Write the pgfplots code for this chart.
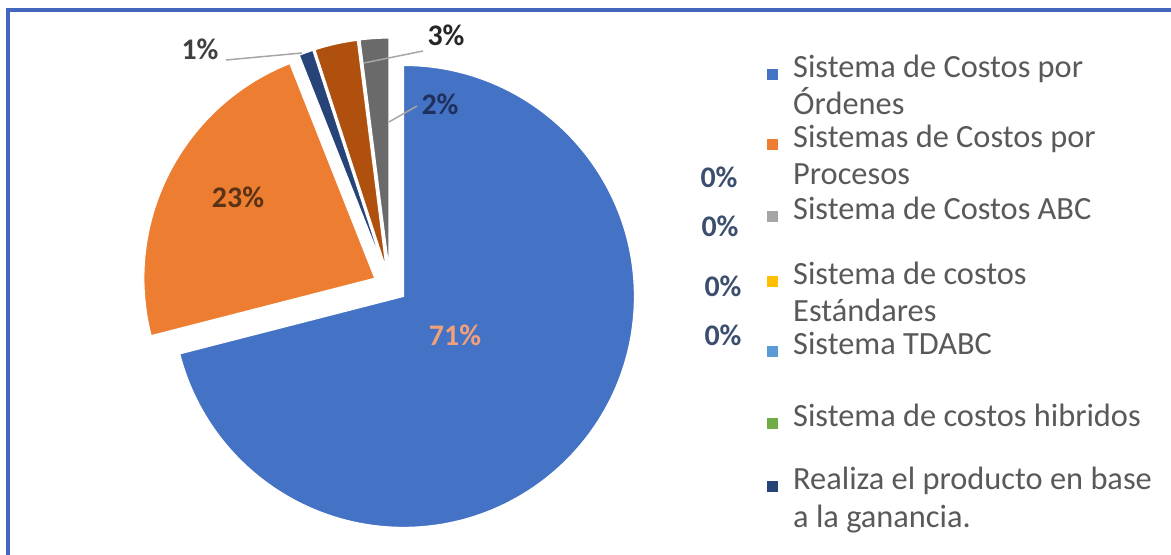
\documentclass[border=0pt]{standalone}
\usepackage{pgfplots}
\pgfplotsset{compat=1.18}
\usepackage{pgfplotstable}
\usepackage{fontspec}
\setmainfont{Carlito}
\definecolor{cBlue}{HTML}{4472C4}
\definecolor{cOrange}{HTML}{ED7D31}
\definecolor{cGrayL}{HTML}{A5A5A5}
\definecolor{cGold}{HTML}{FFC000}
\definecolor{cLBlue}{HTML}{5B9BD5}
\definecolor{cGreen}{HTML}{70AD47}
\definecolor{cNavy}{HTML}{264478}
\definecolor{cBrown}{HTML}{B0500F}
\definecolor{cGray}{HTML}{6A6A6A}
\definecolor{cFrame}{HTML}{4566BE}
\definecolor{cText}{HTML}{595959}
\definecolor{cLead}{HTML}{A6A6A6}
\definecolor{lSalmon}{HTML}{F2A07A}
\definecolor{lBrown}{HTML}{5A3316}
\definecolor{lDark}{HTML}{404040}
\definecolor{lBlack}{HTML}{262626}
\definecolor{lNavy}{HTML}{1F305C}
\definecolor{lZero}{HTML}{3B4E6E}

% share of each cost system (percent)
\pgfplotstableread{
idx value
0 71
1 23
2 0
3 0
4 0
5 0
6 1
7 3
8 2
}\pietable

\def\cx{390}\def\cy{269}\def\rad{231}\def\expl{17}

\newcommand\computeslices{%
  \gdef\cum{0}%
  \foreach \i in {0,...,8}{%
    \pgfplotstablegetelem{\i}{value}\of\pietable
    \pgfmathsetmacro\v{\pgfplotsretval}%
    \pgfmathsetmacro\sa{90-3.6*\cum}%
    \pgfmathsetmacro\ea{\sa-3.6*\v}%
    \pgfmathsetmacro\ma{(\sa+\ea)/2}%
    \pgfmathsetmacro\vx{\cx+\expl*cos(\ma)}%
    \pgfmathsetmacro\vy{\cy+\expl*sin(\ma)}%
    \expandafter\xdef\csname sa\i\endcsname{\sa}%
    \expandafter\xdef\csname ea\i\endcsname{\ea}%
    \expandafter\xdef\csname vx\i\endcsname{\vx}%
    \expandafter\xdef\csname vy\i\endcsname{\vy}%
    \pgfmathsetmacro\newcum{\cum+\v}%
    \xdef\cum{\newcum}%
  }}
\newcommand\drawslice[2]{%
  \fill[#2, draw=white, line width=1.2bp]
    (axis cs:\csname vx#1\endcsname,\csname vy#1\endcsname)
    -- ++(\csname sa#1\endcsname:\rad bp)
    arc[start angle=\csname sa#1\endcsname, end angle=\csname ea#1\endcsname, radius=\rad bp]
    -- cycle;}

\newcommand\lblfont{\fontsize{30}{36}\selectfont\bfseries}
\newcommand\legfont{\fontsize{32.5}{38}\selectfont}

\begin{document}
\begin{tikzpicture}
\computeslices
\begin{axis}[
  hide axis, scale only axis,
  width=1171bp, height=555bp,
  xmin=0, xmax=1171, ymin=0, ymax=555,
  clip=false,
]
% frame
\draw[cFrame, line width=4bp] (axis cs:8,0) -- (axis cs:8,545) -- (axis cs:1171,545);

% slices
\drawslice{0}{cBlue}
\drawslice{1}{cOrange}
\drawslice{6}{cNavy}
\drawslice{7}{cBrown}
\drawslice{8}{cGray}

% leader lines
\draw[cLead, line width=1.5bp] (axis cs:226,495) -- (axis cs:302,502);
\draw[cLead, line width=1.5bp] (axis cs:364,492) -- (axis cs:423,504);
\draw[cLead, line width=1.5bp] (axis cs:389,433) -- (axis cs:417,449);

% data labels
\node[font=\lblfont, text=lSalmon] at (axis cs:455,220) {71\%};
\node[font=\lblfont, text=lBrown] at (axis cs:238,358) {23\%};
\node[font=\lblfont, text=lDark] at (axis cs:200,506) {1\%};
\node[font=\lblfont, text=lBlack] at (axis cs:446,520) {3\%};
\node[font=\lblfont, text=lNavy] at (axis cs:440,451) {2\%};
\node[font=\lblfont, text=lZero] at (axis cs:719,378) {0\%};
\node[font=\lblfont, text=lZero] at (axis cs:720,329) {0\%};
\node[font=\lblfont, text=lZero] at (axis cs:723,269) {0\%};
\node[font=\lblfont, text=lZero] at (axis cs:723,220) {0\%};

% legend
\fill[cBlue]   (axis cs:767,486) rectangle (axis cs:778,475);
\fill[cOrange] (axis cs:767,416) rectangle (axis cs:778,405);
\fill[cGrayL]  (axis cs:767,344) rectangle (axis cs:778,333);
\fill[cGold]   (axis cs:767,279) rectangle (axis cs:778,268);
\fill[cLBlue]  (axis cs:767,209) rectangle (axis cs:778,198);
\fill[cGreen]  (axis cs:767,137) rectangle (axis cs:778,126);
\fill[cNavy]   (axis cs:767,74)  rectangle (axis cs:778,63);
\begin{scope}[every node/.style={font=\legfont, text=cText, anchor=base west, inner sep=0pt}]
\node at (axis cs:793,477) {Sistema de Costos por};
\node at (axis cs:793,440) {Órdenes};
\node at (axis cs:793,407) {Sistemas de Costos por};
\node at (axis cs:793,370) {Procesos};
\node at (axis cs:793,335) {Sistema de Costos ABC};
\node at (axis cs:793,270) {Sistema de costos};
\node at (axis cs:793,233) {Estándares};
\node at (axis cs:793,200) {Sistema TDABC};
\node at (axis cs:793,128) {Sistema de costos hibridos};
\node at (axis cs:793,65)  {Realiza el producto en base};
\node at (axis cs:793,28)  {a la ganancia.};
\end{scope}
\end{axis}
\pgfresetboundingbox
\path (0,0) rectangle (1171bp,555bp);
\end{tikzpicture}
\end{document}
